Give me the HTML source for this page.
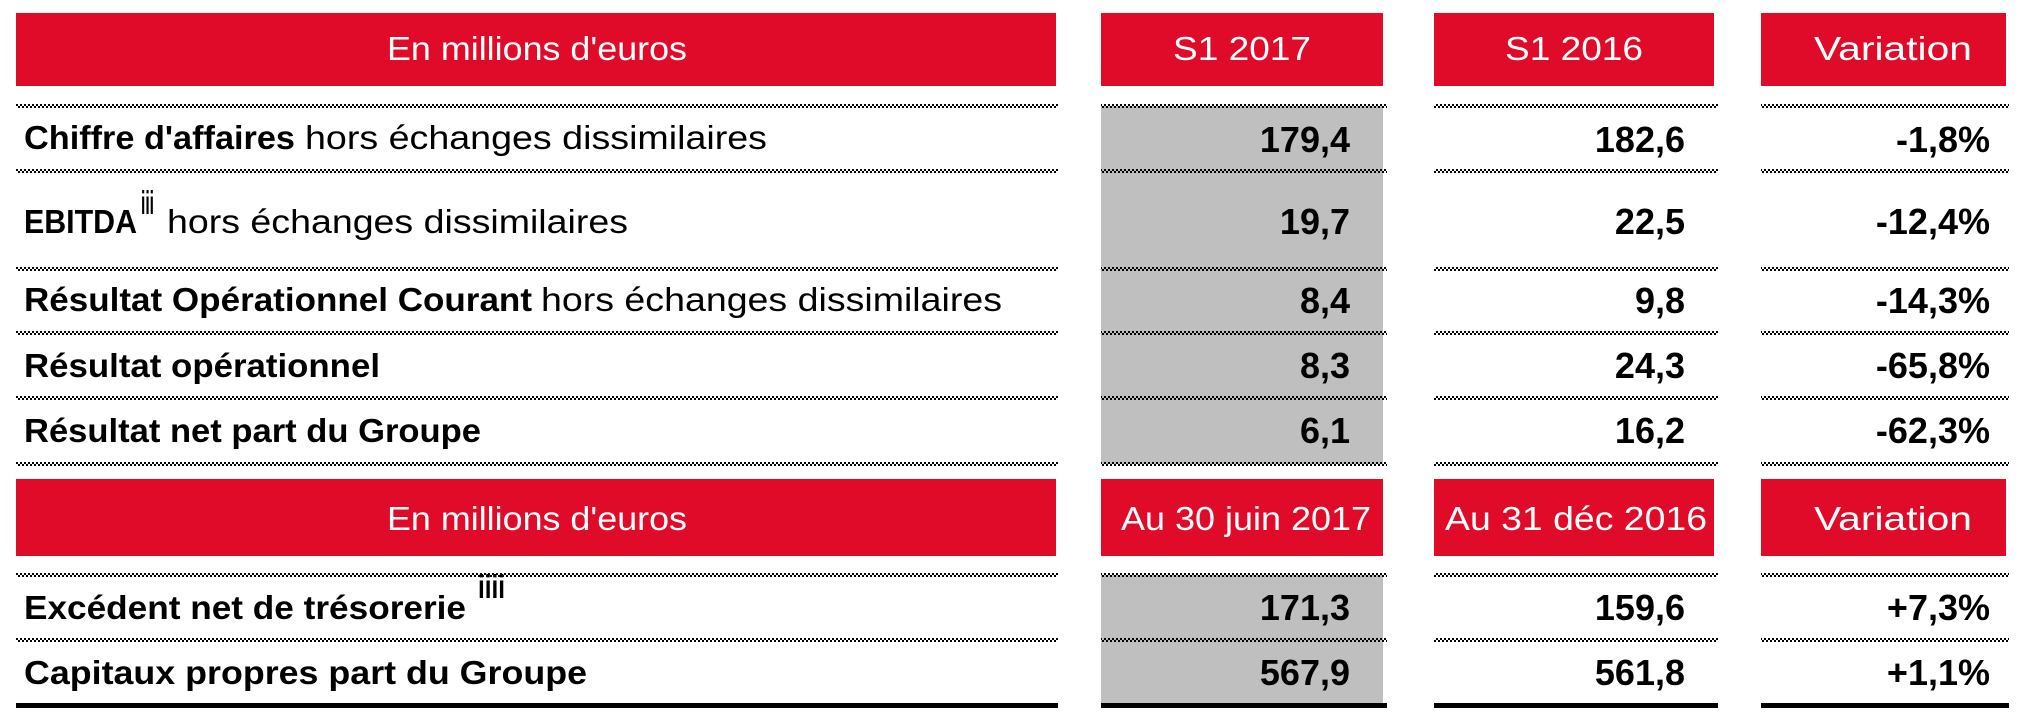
<!DOCTYPE html>
<html><head><meta charset="utf-8"><style>
html,body{margin:0;padding:0;background:#fff;}
svg{display:block;}
text{font-family:"Liberation Sans",sans-serif;}
.h{fill:#fff;font-size:33px;text-anchor:middle;}
.l{fill:#000;font-size:33px;}
.b{font-weight:bold;}
.n{fill:#000;font-size:36px;font-weight:bold;text-anchor:end;}
</style></head><body>
<svg width="2042" height="726" viewBox="0 0 2042 726" xmlns="http://www.w3.org/2000/svg">
<defs>
<pattern id="dots" width="4" height="4" patternUnits="userSpaceOnUse">
<rect x="0" y="0" width="2" height="2" fill="#000"/><rect x="2" y="2" width="2" height="2" fill="#000"/>
</pattern>
<g id="row" fill="url(#dots)"><rect x="16" y="0" width="1042" height="4"/><rect x="1101" y="0" width="286" height="4"/><rect x="1434" y="0" width="284" height="4"/><rect x="1761" y="0" width="248" height="4"/></g>
</defs>
<rect x="1101" y="106" width="282" height="358" fill="#bfbfbf"/>
<rect x="1101" y="575" width="282" height="131" fill="#bfbfbf"/>
<g fill="#e00b29">
<rect x="16" y="13" width="1040" height="73"/><rect x="1101" y="13" width="282" height="73"/>
<rect x="1434" y="13" width="280" height="73"/><rect x="1761" y="13" width="245" height="73"/>
<rect x="16" y="479" width="1040" height="77"/><rect x="1101" y="479" width="282" height="77"/>
<rect x="1434" y="479" width="280" height="77"/><rect x="1761" y="479" width="245" height="77"/>
</g>
<text class="h" x="537" y="60" textLength="300" lengthAdjust="spacingAndGlyphs">En millions d'euros</text>
<text class="h" x="1242" y="60" textLength="138" lengthAdjust="spacingAndGlyphs">S1 2017</text>
<text class="h" x="1574" y="60" textLength="138" lengthAdjust="spacingAndGlyphs">S1 2016</text>
<text class="h" x="1893" y="60" textLength="158" lengthAdjust="spacingAndGlyphs">Variation</text>
<text class="h" x="537" y="530" textLength="300" lengthAdjust="spacingAndGlyphs">En millions d'euros</text>
<text class="h" x="1246" y="530" textLength="250" lengthAdjust="spacingAndGlyphs">Au 30 juin 2017</text>
<text class="h" x="1576" y="530" textLength="262" lengthAdjust="spacingAndGlyphs">Au 31 déc 2016</text>
<text class="h" x="1893" y="530" textLength="158" lengthAdjust="spacingAndGlyphs">Variation</text>
<use href="#row" y="104"/><use href="#row" y="169"/><use href="#row" y="267"/><use href="#row" y="331"/><use href="#row" y="396"/><use href="#row" y="462"/><use href="#row" y="573"/><use href="#row" y="638"/>
<g fill="#000"><rect x="16" y="703" width="1042" height="5"/><rect x="1101" y="703" width="286" height="5"/><rect x="1434" y="703" width="284" height="5"/><rect x="1761" y="703" width="248" height="5"/></g>
<text class="l b" x="24" y="149" textLength="271" lengthAdjust="spacingAndGlyphs">Chiffre d'affaires</text>
<text class="l" x="305" y="149" textLength="462" lengthAdjust="spacingAndGlyphs">hors échanges dissimilaires</text>
<text class="l b" x="24" y="233" textLength="113" lengthAdjust="spacingAndGlyphs">EBITDA</text>
<text class="l b" x="141" y="214" font-size="18" textLength="13" lengthAdjust="spacingAndGlyphs">iii</text>
<text class="l" x="167" y="233" textLength="461" lengthAdjust="spacingAndGlyphs">hors échanges dissimilaires</text>
<text class="l b" x="24" y="311" textLength="508" lengthAdjust="spacingAndGlyphs">Résultat Opérationnel Courant</text>
<text class="l" x="541" y="311" textLength="461" lengthAdjust="spacingAndGlyphs">hors échanges dissimilaires</text>
<text class="l b" x="24" y="377" textLength="356" lengthAdjust="spacingAndGlyphs">Résultat opérationnel</text>
<text class="l b" x="24" y="442" textLength="457" lengthAdjust="spacingAndGlyphs">Résultat net part du Groupe</text>
<text class="l b" x="24" y="619" textLength="442" lengthAdjust="spacingAndGlyphs">Excédent net de trésorerie</text>
<text class="l b" x="478" y="598" font-size="18" textLength="27" lengthAdjust="spacingAndGlyphs">iiii</text>
<text class="l b" x="24" y="684" textLength="563" lengthAdjust="spacingAndGlyphs">Capitaux propres part du Groupe</text>
<text class="n" x="1350" y="152">179,4</text><text class="n" x="1685" y="152">182,6</text><text class="n" x="1990" y="152">-1,8%</text>
<text class="n" x="1350" y="234">19,7</text><text class="n" x="1685" y="234">22,5</text><text class="n" x="1990" y="234">-12,4%</text>
<text class="n" x="1350" y="313">8,4</text><text class="n" x="1685" y="313">9,8</text><text class="n" x="1990" y="313">-14,3%</text>
<text class="n" x="1350" y="378">8,3</text><text class="n" x="1685" y="378">24,3</text><text class="n" x="1990" y="378">-65,8%</text>
<text class="n" x="1350" y="443">6,1</text><text class="n" x="1685" y="443">16,2</text><text class="n" x="1990" y="443">-62,3%</text>
<text class="n" x="1350" y="620">171,3</text><text class="n" x="1685" y="620">159,6</text><text class="n" x="1990" y="620">+7,3%</text>
<text class="n" x="1350" y="685">567,9</text><text class="n" x="1685" y="685">561,8</text><text class="n" x="1990" y="685">+1,1%</text>
</svg>
</body></html>
